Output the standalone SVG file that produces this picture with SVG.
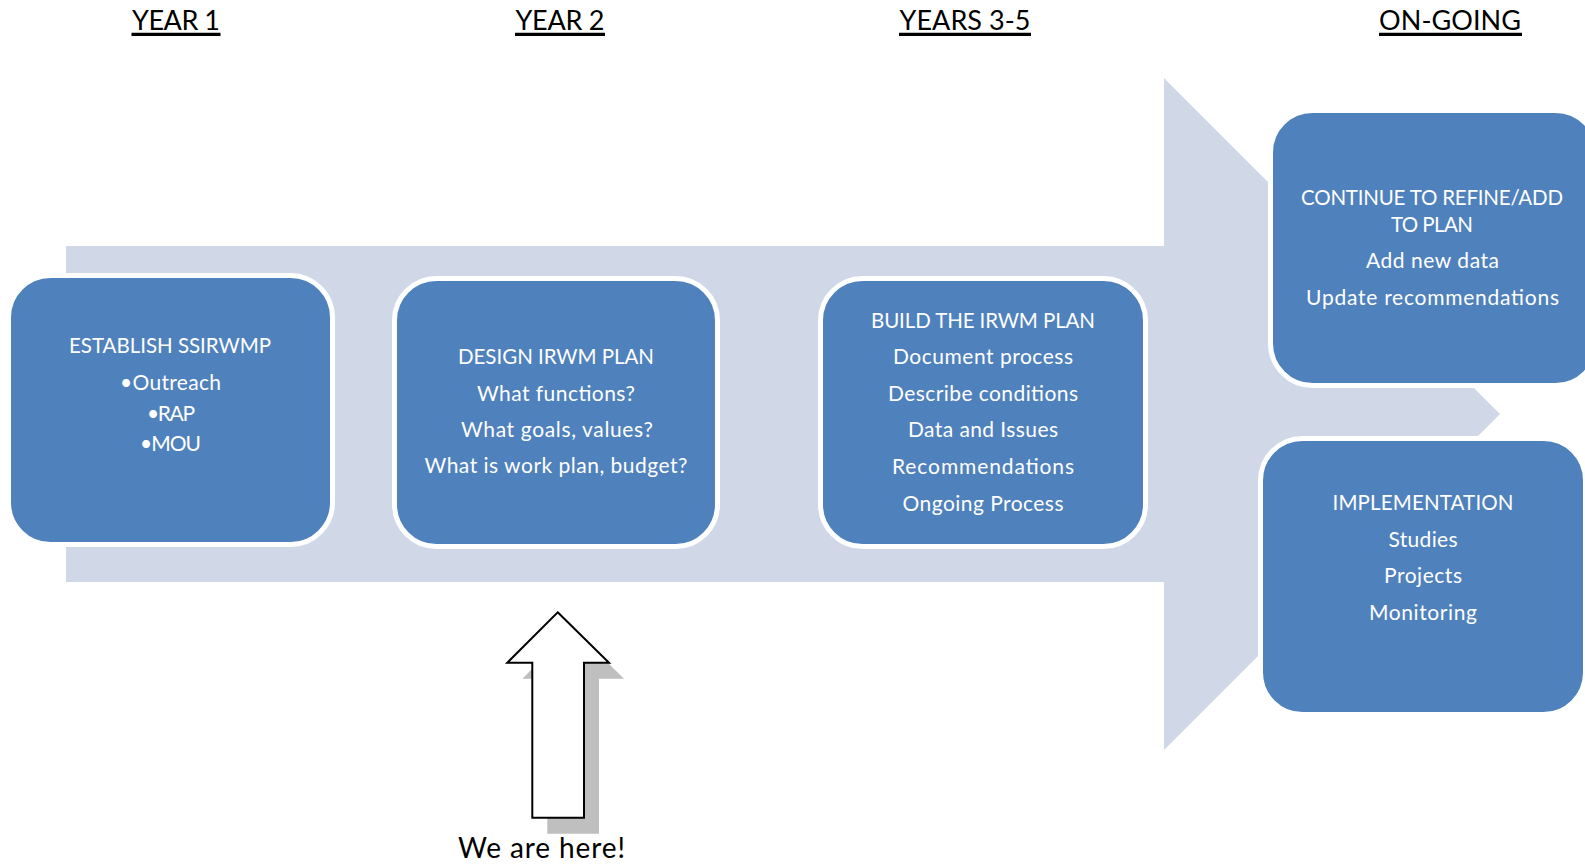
<svg xmlns="http://www.w3.org/2000/svg" width="1585" height="865" viewBox="0 0 1585 865">
<style>
.box{fill:#4F81BD;stroke:#FFFFFF;stroke-width:5}
.bt{font-family:Lato,"Liberation Sans",sans-serif;font-size:21px;fill:#FFFFFF;text-anchor:middle}
.cap{font-size:20.5px}
.hd{font-family:Lato,"Liberation Sans",sans-serif;font-size:27px;fill:#000000;text-anchor:middle}
.ul{stroke:#000000;stroke-width:3.3}
</style>
<rect width="1585" height="865" fill="#FFFFFF"/>
<g id="headers">
<text class="hd" x="176" y="30" textLength="88" lengthAdjust="spacing">YEAR 1</text>
<line class="ul" x1="131.5" y1="34.4" x2="220.5" y2="34.4"/>
<text class="hd" x="560" y="30" textLength="89" lengthAdjust="spacing">YEAR 2</text>
<line class="ul" x1="515" y1="34.4" x2="605" y2="34.4"/>
<text class="hd" x="965" y="30" textLength="131" lengthAdjust="spacing">YEARS 3-5</text>
<line class="ul" x1="899" y1="34.4" x2="1031" y2="34.4"/>
<text class="hd" x="1450" y="30" textLength="142" lengthAdjust="spacing">ON-GOING</text>
<line class="ul" x1="1379" y1="34.4" x2="1522" y2="34.4"/>
</g>
<g id="background-arrow">
<polygon points="66,246 1164,246 1164,78 1500,414 1164,750 1164,582 66,582" fill="#D0D8E8"/>
</g>
<g id="node-year1">
<rect class="box" x="8.5" y="275.5" width="324" height="269" rx="42" ry="42"/>
<text class="bt cap" x="170" y="353" textLength="202" lengthAdjust="spacing">ESTABLISH SSIRWMP</text>
<text class="bt" x="170.5" y="390" textLength="101" lengthAdjust="spacing">•Outreach</text>
<text class="bt" x="171" y="421" textLength="48" lengthAdjust="spacing">•RAP</text>
<text class="bt" x="170.5" y="451" textLength="61" lengthAdjust="spacing">•MOU</text>
</g>
<g id="node-year2">
<rect class="box" x="394.5" y="278.5" width="323" height="268" rx="42" ry="42"/>
<text class="bt cap" x="556" y="364" textLength="196" lengthAdjust="spacing">DESIGN IRWM PLAN</text>
<text class="bt" x="556" y="401" textLength="158" lengthAdjust="spacing">What functions?</text>
<text class="bt" x="557" y="437" textLength="192" lengthAdjust="spacing">What goals, values?</text>
<text class="bt" x="556" y="473" textLength="263" lengthAdjust="spacing">What is work plan, budget?</text>
</g>
<g id="node-years3-5">
<rect class="box" x="820.5" y="278.5" width="325" height="268" rx="42" ry="42"/>
<text class="bt cap" x="983" y="328" textLength="224" lengthAdjust="spacing">BUILD THE IRWM PLAN</text>
<text class="bt" x="983" y="364" textLength="180" lengthAdjust="spacing">Document process</text>
<text class="bt" x="983" y="401" textLength="190" lengthAdjust="spacing">Describe conditions</text>
<text class="bt" x="983" y="437" textLength="150" lengthAdjust="spacing">Data and Issues</text>
<text class="bt" x="983" y="474" textLength="182" lengthAdjust="spacing">Recommendations</text>
<text class="bt" x="983" y="511" textLength="161" lengthAdjust="spacing">Ongoing Process</text>
</g>
<g id="node-refine">
<rect class="box" x="1270.5" y="110.5" width="327" height="275" rx="42" ry="42"/>
<text class="bt cap" x="1432" y="205" textLength="262" lengthAdjust="spacing">CONTINUE TO REFINE/ADD</text>
<text class="bt cap" x="1432" y="232" textLength="82" lengthAdjust="spacing">TO PLAN</text>
<text class="bt" x="1432.5" y="268" textLength="133" lengthAdjust="spacing">Add new data</text>
<text class="bt" x="1432.5" y="305" textLength="253" lengthAdjust="spacing">Update recommendations</text>
</g>
<g id="node-implementation">
<rect class="box" x="1260.5" y="438.5" width="325" height="276" rx="42" ry="42"/>
<text class="bt cap" x="1423" y="510" textLength="181" lengthAdjust="spacing">IMPLEMENTATION</text>
<text class="bt" x="1423" y="547" textLength="69" lengthAdjust="spacing">Studies</text>
<text class="bt" x="1423" y="583" textLength="78" lengthAdjust="spacing">Projects</text>
<text class="bt" x="1423" y="620" textLength="108" lengthAdjust="spacing">Monitoring</text>
</g>
<g id="connectors">
<g id="pointer">
<polygon points="572.7,628.3 624,678.7 599,678.7 599,833.7 547.3,833.7 547.3,678.7 522.3,678.7" fill="#BFBFBF"/>
<polygon points="557.7,612.3 609,662.7 584,662.7 584,817.7 532.3,817.7 532.3,662.7 507.3,662.7" fill="#FFFFFF" stroke="#000000" stroke-width="2" stroke-linejoin="miter"/>
</g>
</g>
<g id="label-here">
<text x="541.5" y="858" font-family="Lato,'Liberation Sans',sans-serif" font-size="28" fill="#000000" text-anchor="middle" textLength="167" lengthAdjust="spacing">We are here!</text>
</g>
</svg>
